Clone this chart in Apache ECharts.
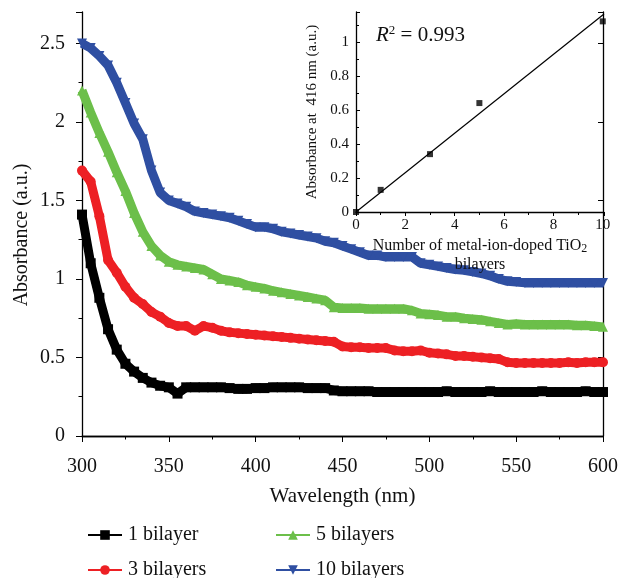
<!DOCTYPE html>
<html>
<head>
<meta charset="utf-8">
<script src="https://cdn.jsdelivr.net/npm/echarts@6/dist/echarts.min.js"></script>
<style>
  html, body { margin: 0; padding: 0; background: #fff; }
  #main { width: 621px; height: 578px; }
</style>
</head>
<body>
<div id="main"></div>
<script>
// wavelength grid, 5 nm steps
var wavelength = [];
for (var w = 300; w <= 600; w += 5) wavelength.push(w);

var oneBilayer = [
  1.41, 1.10, 0.88, 0.68, 0.55, 0.46, 0.41, 0.37, 0.34, 0.32, 0.31, 0.27, 0.31,
  0.31, 0.31, 0.31, 0.31, 0.305, 0.30, 0.30, 0.305, 0.305, 0.31, 0.31, 0.31, 0.31,
  0.305, 0.305, 0.305, 0.29, 0.285, 0.285, 0.285, 0.285, 0.28, 0.28, 0.28, 0.28,
  0.28, 0.28, 0.28, 0.28, 0.285, 0.28, 0.28, 0.28, 0.28, 0.285, 0.28, 0.28, 0.28,
  0.28, 0.28, 0.285, 0.28, 0.28, 0.28, 0.28, 0.285, 0.28, 0.28
];
var threeBilayers = [
  1.69, 1.62, 1.40, 1.12, 1.04, 0.95, 0.88, 0.84, 0.79, 0.76, 0.72, 0.70, 0.70,
  0.67, 0.70, 0.69, 0.67, 0.66, 0.655, 0.65, 0.645, 0.64, 0.635, 0.63, 0.625, 0.62,
  0.615, 0.61, 0.605, 0.60, 0.57, 0.565, 0.565, 0.56, 0.56, 0.56, 0.545, 0.54,
  0.54, 0.545, 0.53, 0.525, 0.52, 0.51, 0.51, 0.505, 0.50, 0.495, 0.49, 0.47,
  0.465, 0.465, 0.465, 0.465, 0.465, 0.465, 0.47, 0.465, 0.47, 0.47, 0.47
];
var fiveBilayers = [
  2.20, 2.06, 1.93, 1.81, 1.68, 1.56, 1.42, 1.30, 1.21, 1.15, 1.11, 1.09, 1.08,
  1.07, 1.06, 1.03, 1.00, 0.99, 0.98, 0.96, 0.95, 0.94, 0.925, 0.915, 0.905, 0.895,
  0.885, 0.875, 0.865, 0.82, 0.815, 0.815, 0.815, 0.81, 0.81, 0.81, 0.81, 0.81,
  0.80, 0.78, 0.775, 0.77, 0.76, 0.76, 0.75, 0.745, 0.74, 0.73, 0.72, 0.71,
  0.715, 0.71, 0.71, 0.71, 0.71, 0.71, 0.71, 0.705, 0.705, 0.70, 0.695
];
var tenBilayers = [
  2.50, 2.47, 2.42, 2.36, 2.25, 2.12, 1.99, 1.89, 1.69, 1.55, 1.50, 1.48, 1.46,
  1.43, 1.42, 1.41, 1.40, 1.39, 1.37, 1.35, 1.33, 1.33, 1.32, 1.30, 1.29, 1.28,
  1.27, 1.26, 1.24, 1.23, 1.21, 1.19, 1.17, 1.15, 1.15, 1.14, 1.14, 1.14, 1.14,
  1.10, 1.09, 1.08, 1.07, 1.06, 1.055, 1.045, 1.035, 1.02, 1.00, 0.985, 0.98,
  0.975, 0.975, 0.975, 0.975, 0.975, 0.975, 0.975, 0.975, 0.975, 0.975
];

// inset: absorbance at 416 nm vs bilayer count
var bilayerCount = [0, 1, 3, 5, 10];
var abs416 = [0, 0.13, 0.34, 0.64, 1.12];
var fitSlope = 0.1158;
var fitX = [0, 10.05];
var r2Text = "0.993";

var FONT = "Liberation Serif";
var colors = ["#000000", "#ed2024", "#6cbf4a", "#2f4fa2"];

function pairs(xs, ys) {
  return xs.map(function (x, i) { return [x, ys[i]]; });
}

function curve(name, values, symbol, color, rotate) {
  return {
    name: name,
    type: "line",
    xAxisIndex: 0,
    yAxisIndex: 0,
    data: pairs(wavelength, values),
    symbol: symbol,
    symbolSize: 10,
    symbolRotate: rotate || 0,
    showSymbol: true,
    lineStyle: { color: color, width: 9 },
    itemStyle: { color: color },
    animation: false
  };
}

// one legend box per entry, laid out as two columns
function legendItem(name, left, top) {
  return {
    data: [name],
    left: left, top: top,
    itemWidth: 34, itemHeight: 12,
    textStyle: { fontFamily: FONT, fontSize: 20, color: "#111", padding: [0, 0, 0, 1] }
  };
}

var dom = document.getElementById("main");
var myChart = echarts.init(dom, null, { renderer: "canvas" });

var axisLine = { show: true, lineStyle: { color: "#000", width: 1.3 } };

var option = {
  backgroundColor: "#fff",
  textStyle: { fontFamily: FONT, color: "#111" },
  color: colors,
  legend: [
    legendItem("1 bilayer", 82, 520),
    legendItem("3 bilayers", 82, 555),
    legendItem("5 bilayers", 270, 520),
    legendItem("10 bilayers", 270, 555)
  ],
  grid: [
    { left: 82, right: 17, top: 12, bottom: 142 },
    { left: 356, right: 17, top: 12, bottom: 366 }
  ],
  xAxis: [
    {
      gridIndex: 0, type: "value", min: 300, max: 600, interval: 50,
      name: "Wavelength (nm)", nameLocation: "middle", nameGap: 50,
      nameTextStyle: { fontFamily: FONT, fontSize: 21, color: "#111" },
      axisLine: axisLine,
      axisTick: { show: true, inside: false, length: 6, lineStyle: { color: "#000" } },
      minorTick: { show: true, splitNumber: 2, length: 3.5, lineStyle: { color: "#000" } },
      axisLabel: { fontFamily: FONT, fontSize: 20, color: "#111", margin: 21 },
      splitLine: { show: false }
    },
    {
      gridIndex: 0, type: "value", min: 300, max: 600, interval: 50, position: "top",
      axisLine: axisLine,
      axisTick: { show: true, inside: true, length: 5, lineStyle: { color: "#000" } },
      axisLabel: { show: false },
      splitLine: { show: false }
    },
    {
      gridIndex: 1, type: "value", min: 0, max: fitX[1], interval: 2, z: 10,
      name: "{a|Number of metal-ion-doped TiO}{s|2}\n{a|bilayers}",
      nameLocation: "middle", nameGap: 24,
      nameTextStyle: {
        rich: {
          a: { fontFamily: FONT, fontSize: 16, color: "#111", lineHeight: 19 },
          s: { fontFamily: FONT, fontSize: 12, color: "#111", verticalAlign: "bottom", padding: [6, 0, 0, 0], lineHeight: 19 }
        }
      },
      axisLine: axisLine,
      axisTick: { show: true, inside: false, length: 4, lineStyle: { color: "#000" } },
      minorTick: { show: true, splitNumber: 2, length: 3, lineStyle: { color: "#000" } },
      axisLabel: { fontFamily: FONT, fontSize: 15, color: "#111", margin: 6, showMaxLabel: false },
      splitLine: { show: false }
    }
  ],
  yAxis: [
    {
      gridIndex: 0, type: "value", min: 0, max: 2.7, interval: 0.5,
      axisLine: axisLine,
      axisTick: { show: true, inside: false, length: 6, lineStyle: { color: "#000" } },
      minorTick: { show: true, splitNumber: 2, length: 3.5, lineStyle: { color: "#000" } },
      axisLabel: { fontFamily: FONT, fontSize: 20, color: "#111", margin: 17, showMaxLabel: false },
      splitLine: { show: false }
    },
    {
      gridIndex: 0, type: "value", min: 0, max: 2.7, interval: 0.5, position: "right",
      axisLine: axisLine,
      axisTick: { show: true, inside: true, length: 5, lineStyle: { color: "#000" } },
      axisLabel: { show: false },
      splitLine: { show: false }
    },
    {
      gridIndex: 1, type: "value", min: 0, max: 1.175, interval: 0.2, z: 10,
      name: "Absorbance at  416 nm (a.u.)", nameLocation: "middle", nameGap: 36,
      nameTextStyle: { fontFamily: FONT, fontSize: 15, color: "#111" },
      axisLine: axisLine,
      axisTick: { show: true, inside: true, length: 4, lineStyle: { color: "#000" } },
      minorTick: { show: true, splitNumber: 2, length: 3, lineStyle: { color: "#000" } },
      axisLabel: { fontFamily: FONT, fontSize: 15, color: "#111", margin: 7, showMaxLabel: false },
      splitLine: { show: false }
    }
  ],
  graphic: [
    {
      // main y-axis title, sits a little below the plot's middle in the original
      type: "text", x: 22, y: 235, rotation: Math.PI / 2, z: 20,
      style: {
        text: "Absorbance (a.u.)",
        fontFamily: FONT, fontSize: 20, fill: "#111",
        align: "center", verticalAlign: "middle"
      }
    },
    {
      type: "text", left: 376, top: 24, z: 20,
      style: {
        text: "{r|R}{s|2}{t| = " + r2Text + "}",
        rich: {
          r: { fontFamily: FONT, fontStyle: "italic", fontSize: 21, fill: "#111" },
          s: { fontFamily: FONT, fontSize: 13, fill: "#111", verticalAlign: "top", padding: [0, 0, 10, 0] },
          t: { fontFamily: FONT, fontSize: 21, fill: "#111" }
        }
      }
    }
  ],
  series: [
    curve("1 bilayer", oneBilayer, "rect", colors[0]),
    curve("3 bilayers", threeBilayers, "circle", colors[1]),
    curve("5 bilayers", fiveBilayers, "triangle", colors[2]),
    curve("10 bilayers", tenBilayers, "triangle", colors[3], 180),
    {
      name: "fit",
      type: "line",
      xAxisIndex: 2, yAxisIndex: 2,
      data: fitX.map(function (x) { return [x, fitSlope * x]; }),
      showSymbol: false,
      lineStyle: { color: "#000", width: 1.2 },
      z: 11,
      animation: false
    },
    {
      name: "abs416",
      type: "scatter",
      xAxisIndex: 2, yAxisIndex: 2,
      data: pairs(bilayerCount, abs416),
      symbol: "rect",
      symbolSize: 6,
      itemStyle: { color: "#000" },
      z: 12,
      animation: false
    }
  ]
};

option && "object" == typeof option && myChart.setOption(option, !0);
</script>
</body>
</html>
